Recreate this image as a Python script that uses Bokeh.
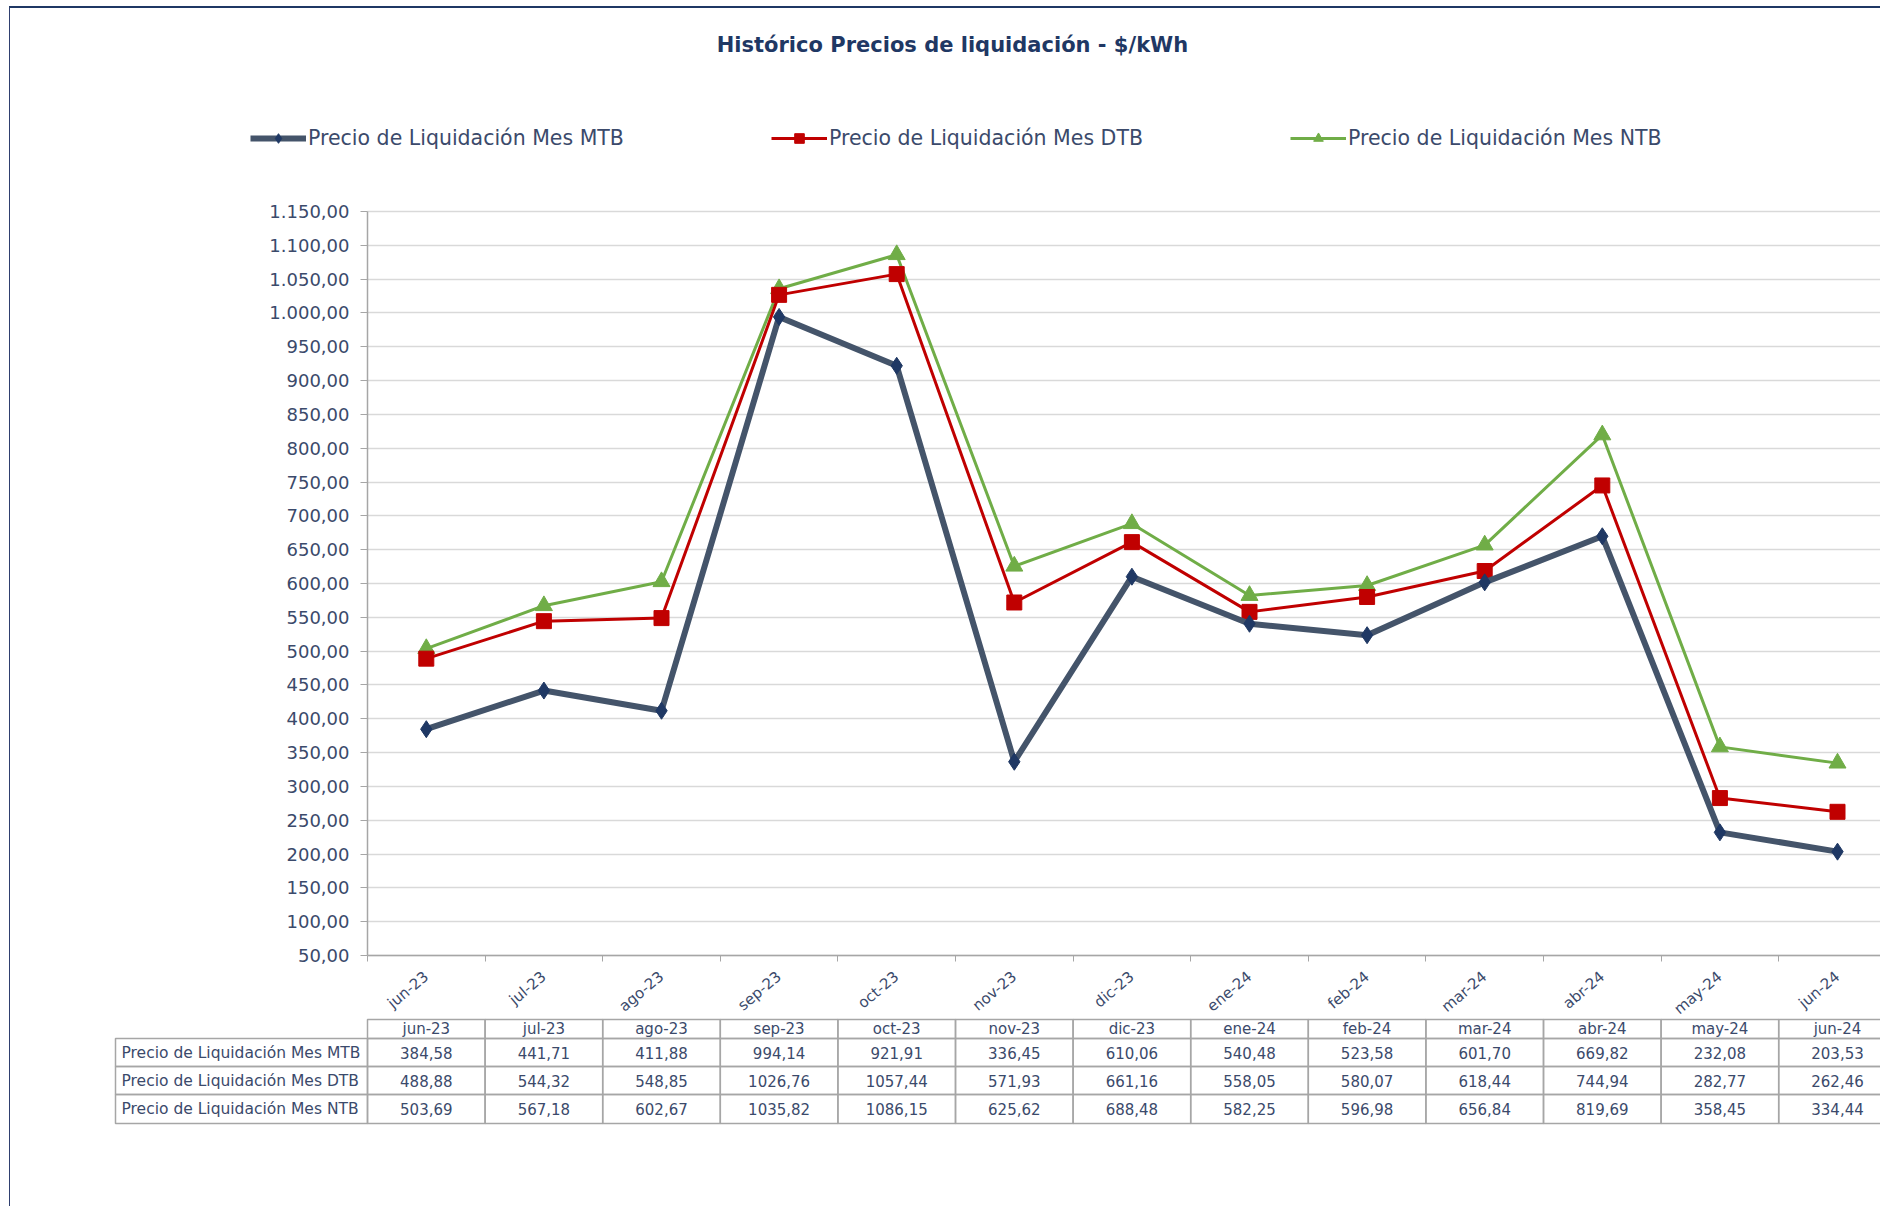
from bokeh.plotting import figure
from bokeh.models import (Range1d, FixedTicker, Legend, LegendItem, Label,
                          ColumnDataSource)
from bokeh.embed import file_html
from bokeh.resources import INLINE

# ---------------- data ----------------
months = ["jun-23", "jul-23", "ago-23", "sep-23", "oct-23", "nov-23", "dic-23",
          "ene-24", "feb-24", "mar-24", "abr-24", "may-24", "jun-24"]
mtb = [384.58, 441.71, 411.88, 994.14, 921.91, 336.45, 610.06,
       540.48, 523.58, 601.70, 669.82, 232.08, 203.53]
dtb = [488.88, 544.32, 548.85, 1026.76, 1057.44, 571.93, 661.16,
       558.05, 580.07, 618.44, 744.94, 282.77, 262.46]
ntb = [503.69, 567.18, 602.67, 1035.82, 1086.15, 625.62, 688.48,
       582.25, 596.98, 656.84, 819.69, 358.45, 334.44]
series_names = ["Precio de Liquidación Mes MTB",
                "Precio de Liquidación Mes DTB",
                "Precio de Liquidación Mes NTB"]
y_ticks = list(range(50, 1151, 50))
title_text = "Histórico Precios de liquidación - $/kWh"

# ---------------- layout constants (page pixels) ----------------
FONT = "DejaVu Sans"
TXT = "#3B4A6B"
NAVY = "#1F3864"
GRID = "#D9D9D9"
AXIS = "#A6A6A6"
ORG_X, ORG_Y = 10, 8           # canvas origin on the page
W, H = 1871, 1200
PLOT_L, PLOT_T, PLOT_B = 367, 211, 955
COL = 117.6                    # px per month
Y0, Y1 = 50, 1150

ppu = (PLOT_B - PLOT_T) / (Y1 - Y0)
x_start = -0.5 - (PLOT_L - ORG_X) / COL
x_end = -0.5 + (ORG_X + W - PLOT_L) / COL
y_end = Y1 + (PLOT_T - ORG_Y) / ppu
y_start = Y0 - (ORG_Y + H - PLOT_B) / ppu


def fmt_es(v, thousands=True):
    s = f"{v:,.2f}" if thousands else f"{v:.2f}"
    return s.replace(",", "X").replace(".", ",").replace("X", ".")


idx = list(range(len(months)))

p = figure(width=W, height=H, x_range=Range1d(x_start, x_end),
           y_range=Range1d(y_start, y_end), output_backend="svg",
           toolbar_location=None, min_border=0, outline_line_color=None,
           styles={"border-top": "2px solid #1F3864",
                   "border-left": "1px solid #2F3F6F",
                   "margin-left": "9px", "margin-top": "6px"})
p.extra_y_ranges = {"px": Range1d(ORG_Y + H, ORG_Y)}

# horizontal grid limited to the plot area
yt = FixedTicker(ticks=y_ticks)
g = p.ygrid[0]
if "cross_bounds" in g.properties():
    g.ticker = yt
    g.bounds = (Y0, Y1)
    g.cross_bounds = (-0.5, x_end)
    g.grid_line_color = GRID
    g.grid_line_width = 1.5
else:
    g.visible = False
    p.segment(x0=[-0.5] * len(y_ticks), y0=y_ticks, x1=[x_end] * len(y_ticks), y1=y_ticks,
              line_color=GRID, line_width=1.5, level="underlay")
p.xgrid.grid_line_color = None

src = ColumnDataSource(dict(x=idx, mtb=mtb, dtb=dtb, ntb=ntb))

l_ntb = p.line("x", "ntb", source=src, line_color="#70AD47", line_width=3)
m_ntb = p.scatter("x", "ntb", source=src, marker="triangle", size=17,
                  fill_color="#70AD47", line_color="#70AD47")
l_dtb = p.line("x", "dtb", source=src, line_color="#C00000", line_width=3)
m_dtb = p.scatter("x", "dtb", source=src, marker="square", size=15,
                  fill_color="#C00000", line_color="#C00000")
l_mtb = p.line("x", "mtb", source=src, line_color="#44546A", line_width=6)
m_mtb = p.scatter("x", "mtb", source=src, marker="diamond", size=17,
                  fill_color=NAVY, line_color=NAVY)

legend = Legend(items=[LegendItem(label=series_names[0], renderers=[l_mtb, m_mtb]),
                       LegendItem(label=series_names[1], renderers=[l_dtb, m_dtb]),
                       LegendItem(label=series_names[2], renderers=[l_ntb, m_ntb])],
                orientation="horizontal", location=(250 - ORG_X, ORG_Y + H - 150),
                padding=0, margin=0, spacing=147, glyph_width=56, glyph_height=24,
                label_height=24, label_standoff=2, border_line_color=None,
                background_fill_alpha=0, label_text_font=FONT,
                label_text_font_size="20.5px", label_text_color=TXT)
p.add_layout(legend)

p.add_layout(Label(x=952 - ORG_X, y=ORG_Y + H - 44, x_units="screen", y_units="screen",
                   text=title_text, text_align="center", text_baseline="middle",
                   text_font=FONT, text_font_size="21px", text_font_style="bold",
                   text_color=NAVY))

# y axis (drawn at the left edge of the plot area)
p.yaxis.fixed_location = -0.5
p.yaxis.bounds = (Y0, Y1)
p.yaxis.ticker = yt
p.yaxis.major_label_overrides = {t: fmt_es(t) for t in y_ticks}
p.yaxis.axis_line_color = AXIS
p.yaxis.axis_line_width = 1.5
p.yaxis.major_tick_line_color = AXIS
p.yaxis.major_tick_out = 7
p.yaxis.major_tick_in = 0
p.yaxis.minor_tick_line_color = None
p.yaxis.major_label_standoff = 11
p.yaxis.major_label_text_font = FONT
p.yaxis.major_label_text_font_size = "18px"
p.yaxis.major_label_text_color = TXT

# x axis (drawn at y = 50)
p.xaxis.fixed_location = Y0
p.xaxis.bounds = (-0.5, x_end)
p.xaxis.ticker = FixedTicker(ticks=idx, minor_ticks=[i - 0.5 for i in range(len(months) + 1)])
p.xaxis.major_label_overrides = {i: m for i, m in enumerate(months)}
p.xaxis.axis_line_color = AXIS
p.xaxis.axis_line_width = 1.5
p.xaxis.major_tick_line_color = None
p.xaxis.major_tick_out = 0
p.xaxis.minor_tick_line_color = AXIS
p.xaxis.minor_tick_out = 6
p.xaxis.minor_tick_in = 0
p.xaxis.major_label_orientation = 0.7
p.xaxis.major_label_standoff = 13
p.xaxis.major_label_text_font = FONT
p.xaxis.major_label_text_font_size = "15px"
p.xaxis.major_label_text_color = TXT

# ---------------- data table (rows placed in page pixels) ----------------
row_edges = [1019, 1038, 1066, 1094, 1123]
row_mid = [(row_edges[k] + row_edges[k + 1]) / 2 for k in range(4)]
label_left = -0.5 - (PLOT_L - 115) / COL
label_text_x = -0.5 - (PLOT_L - 121) / COL

p.quad(left=[i - 0.5 for i in idx], right=[i + 0.5 for i in idx],
       top=[row_edges[0]] * len(idx), bottom=[row_edges[1]] * len(idx),
       y_range_name="px", fill_color=None, line_color=AXIS, line_width=1.5)
p.text(x=idx, y=[row_mid[0]] * len(idx), text=months, y_range_name="px",
       text_align="center", text_baseline="middle", text_font_size="15px",
       text_color=TXT, text_font={"value": FONT})

for r, vals in enumerate([mtb, dtb, ntb]):
    t, b = row_edges[r + 1], row_edges[r + 2]
    p.quad(left=[label_left] + [i - 0.5 for i in idx],
           right=[-0.5] + [i + 0.5 for i in idx],
           top=[t] * (len(idx) + 1), bottom=[b] * (len(idx) + 1),
           y_range_name="px", fill_color=None, line_color=AXIS, line_width=1.5)
    p.text(x=[label_text_x], y=[row_mid[r + 1]], text=[series_names[r]],
           y_range_name="px", text_align="left", text_baseline="middle",
           text_font_size="15.5px", text_color=TXT, text_font={"value": FONT})
    p.text(x=idx, y=[row_mid[r + 1]] * len(idx), text=[fmt_es(v, False) for v in vals],
           y_range_name="px", text_align="center", text_baseline="middle",
           text_font_size="15px", text_color=TXT, text_font={"value": FONT})

open("out.html", "w").write(file_html(p, INLINE))
